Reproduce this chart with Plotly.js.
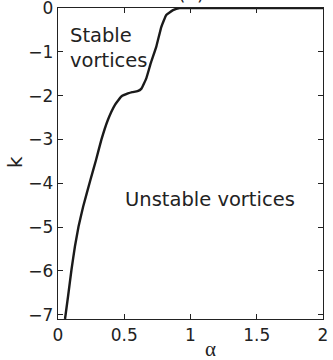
<!DOCTYPE html>
<html>
<head>
<meta charset="utf-8">
<script src="https://cdn.plot.ly/plotly-3.0.1.min.js"></script>
<style>
  html, body { margin: 0; padding: 0; background: #fff; }
  #chart { width: 333px; height: 360px; }
</style>
</head>
<body>
<div id="chart"></div>
<script>
// boundary between stable and unstable vortices
const alpha = [0.053, 0.076, 0.102, 0.128, 0.155, 0.19, 0.245, 0.287, 0.327, 0.377, 0.43, 0.478, 0.528, 0.56, 0.60, 0.63, 0.667, 0.70, 0.742, 0.78, 0.817, 0.868, 0.918, 1.0, 1.5, 2.0];
const k = [-7.1, -6.58, -5.97, -5.44, -4.99, -4.53, -3.92, -3.47, -3.01, -2.55, -2.21, -2.02, -1.95, -1.92, -1.90, -1.84, -1.60, -1.26, -0.88, -0.43, -0.16, -0.05, 0, 0, 0, 0];

const xTicks = [0, 0.5, 1, 1.5, 2];
const xTickText = ["0", "0.5", "1", "1.5", "2"];
const yTicks = [0, -1, -2, -3, -4, -5, -6, -7];
const yTickText = ["0", "\u22121", "\u22122", "\u22123", "\u22124", "\u22125", "\u22126", "\u22127"];

const boundary = {
    x: alpha,
    y: k,
    mode: "lines",
    type: "scatter",
    line: { color: "#1a1a1a", width: 2.4, shape: "spline", smoothing: 0.3 },
    hoverinfo: "skip",
};

const font = "DejaVu Sans, Arial, sans-serif";

const axisCommon = {
    showgrid: false,
    zeroline: false,
    showline: true,
    mirror: "ticks",
    linecolor: "#222",
    linewidth: 1.2,
    ticks: "inside",
    ticklen: 5,
    tickcolor: "#222",
    ticklabeloverflow: "allow",
    tickfont: { family: font, size: 17, color: "#222" },
};

const layout = {
    width: 333,
    height: 360,
    margin: { l: 58, r: 10, t: 8, b: 41 },
    paper_bgcolor: "#fff",
    plot_bgcolor: "#fff",
    showlegend: false,
    xaxis: Object.assign({}, axisCommon, {
        range: [0, 2],
        tickvals: xTicks,
        ticktext: xTickText,
    }),
    yaxis: Object.assign({}, axisCommon, {
        range: [-7.1, 0],
        tickvals: yTicks,
        ticktext: yTickText,
    }),
    annotations: [
        { x: 0.075, y: -0.91, xref: "x", yref: "y", text: "Stable<br>vortices", showarrow: false, align: "left",
          xanchor: "left", yanchor: "middle",
          font: { family: font, size: 19.5, color: "#222" } },
        { x: 1.147, y: -4.38, xref: "x", yref: "y", text: "Unstable vortices", showarrow: false,
          xanchor: "center", yanchor: "middle",
          font: { family: font, size: 19.5, color: "#222" } },
        { x: 0.574, y: -0.095, xref: "paper", yref: "paper", text: "\u03b1", showarrow: false,
          xanchor: "center", yanchor: "middle",
          font: { family: "Liberation Serif, serif", size: 21, color: "#222" } },
        { x: -0.162, y: 0.505, xref: "paper", yref: "paper", text: "k", showarrow: false, textangle: -90,
          xanchor: "center", yanchor: "middle",
          font: { family: font, size: 20, color: "#222" } },
        { x: 1.0, y: 1, xref: "x", yref: "paper", text: "(a)", showarrow: false,
          xanchor: "center", yanchor: "bottom", yshift: 2,
          font: { family: font, size: 19, color: "#222" } },
    ],
};

Plotly.newPlot("chart", [boundary], layout, { staticPlot: true, displayModeBar: false });
</script>
</body>
</html>
